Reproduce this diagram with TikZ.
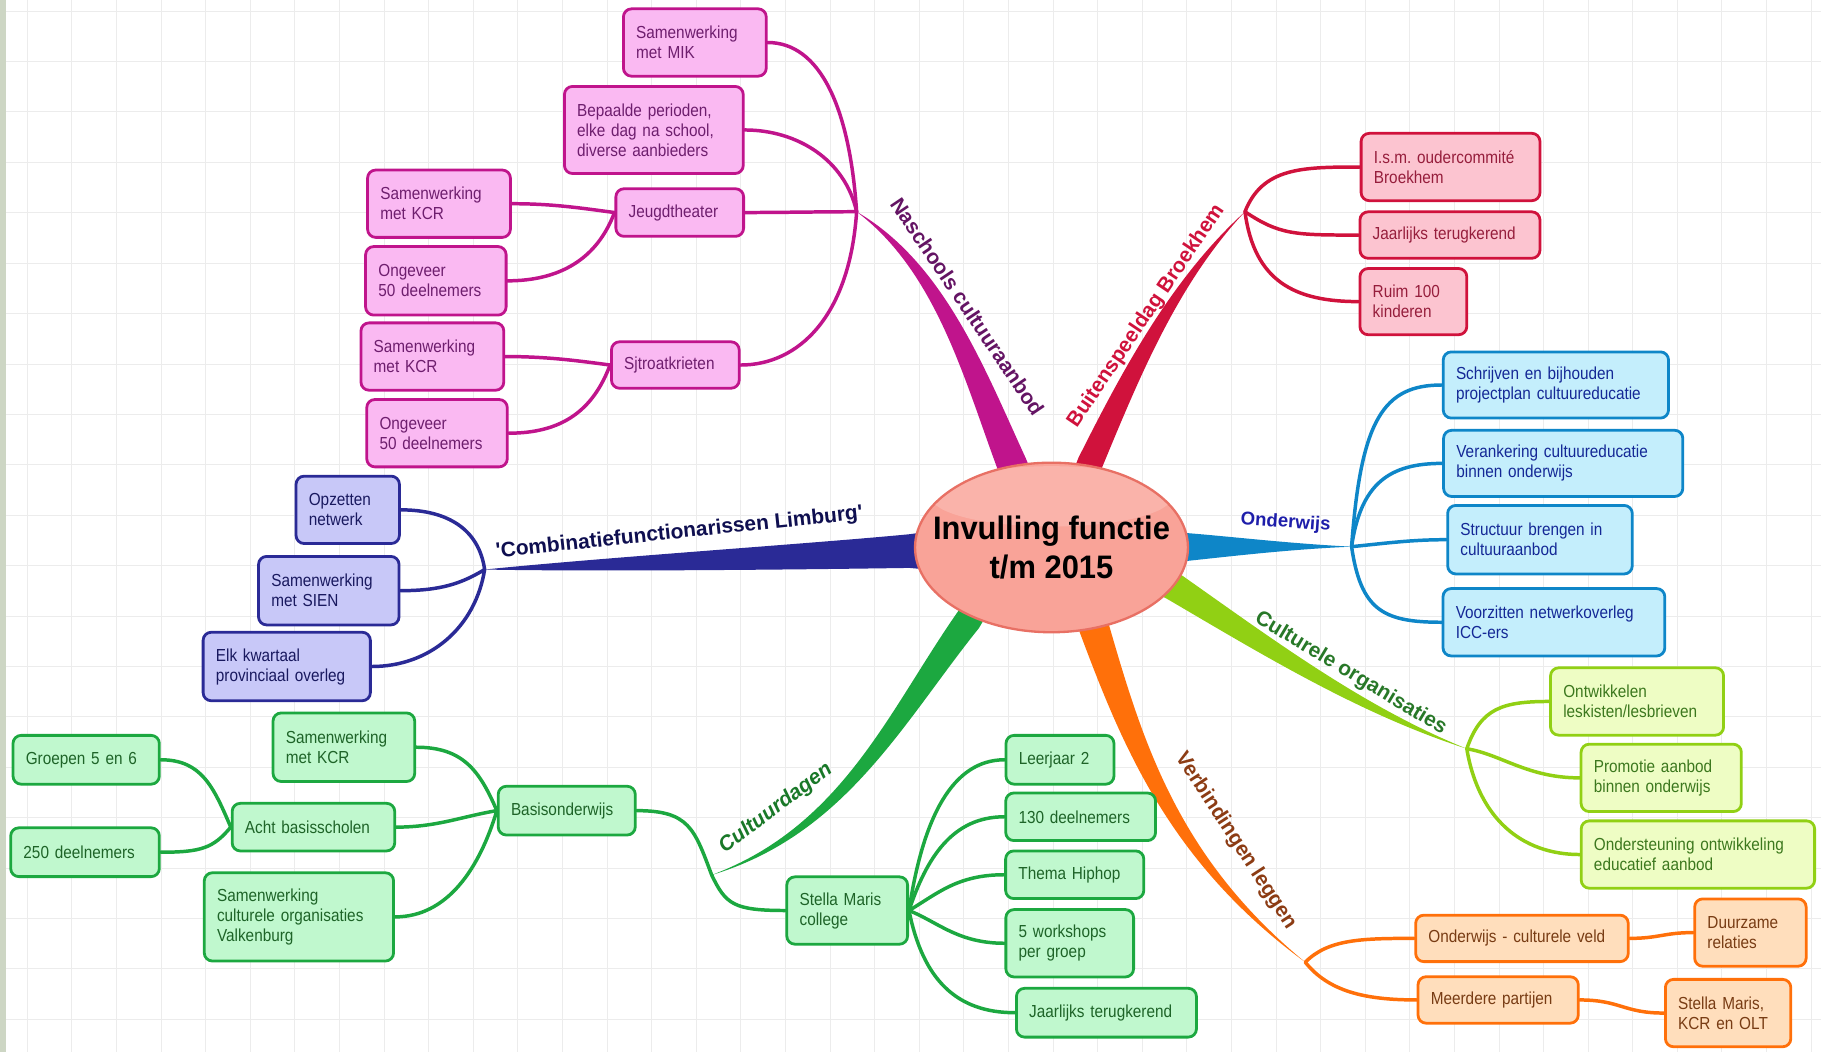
\documentclass[tikz,border=0pt]{standalone}
\usepackage{fontspec}
\usepackage{xcolor}
\usepackage{tikz}
\usetikzlibrary{shapes.geometric}
\setmainfont{Liberation Sans}
\newfontfamily\boxfont{Liberation Sans}[FakeStretch=0.88]
\newfontfamily\lblfont{Liberation Sans}
\newfontfamily\ttlfont{Liberation Sans}[FakeStretch=0.95]
\frenchspacing

\definecolor{magLine}{RGB}{192,20,140}
\definecolor{magFill}{RGB}{250,185,242}
\definecolor{magText}{RGB}{110,30,110}
\definecolor{magLbl}{RGB}{100,20,100}
\definecolor{redLine}{RGB}{208,18,60}
\definecolor{redFill}{RGB}{252,196,208}
\definecolor{redText}{RGB}{150,30,60}
\definecolor{bluLine}{RGB}{14,134,200}
\definecolor{bluFill}{RGB}{196,238,252}
\definecolor{bluText}{RGB}{20,40,150}
\definecolor{bluLbl}{RGB}{30,30,170}
\definecolor{ygLine}{RGB}{145,208,20}
\definecolor{ygFill}{RGB}{238,253,196}
\definecolor{ygText}{RGB}{60,120,30}
\definecolor{ygLbl}{RGB}{40,120,40}
\definecolor{orLine}{RGB}{255,112,10}
\definecolor{orFill}{RGB}{255,222,188}
\definecolor{orText}{RGB}{120,60,20}
\definecolor{orLbl}{RGB}{140,60,20}
\definecolor{grLine}{RGB}{28,168,64}
\definecolor{grFill}{RGB}{192,248,206}
\definecolor{grText}{RGB}{30,100,40}
\definecolor{grLbl}{RGB}{25,120,40}
\definecolor{navLine}{RGB}{42,42,150}
\definecolor{navFill}{RGB}{200,200,248}
\definecolor{navText}{RGB}{25,25,95}
\definecolor{navLbl}{RGB}{15,15,80}
\definecolor{ctrFill}{RGB}{249,163,152}
\definecolor{ctrLine}{RGB}{232,112,100}
\definecolor{gridC}{RGB}{236,236,236}
\definecolor{stripC}{RGB}{205,214,196}

\pgfdeclarelayer{grid}
\pgfdeclarelayer{bg}
\pgfsetlayers{grid,bg,main}

\tikzset{
  box/.style={rectangle, rounded corners=7pt, line width=2.4pt, inner xsep=11pt, inner ysep=3pt, align=left, font=\boxfont\fontsize{15}{17.2}\selectfont},
  sz/.style 2 args={text width=#1pt-22pt, minimum width=#1pt, minimum height=#2pt},
  magbox/.style={box, draw=magLine, fill=magFill, text=magText},
  redbox/.style={box, draw=redLine, fill=redFill, text=redText},
  blubox/.style={box, draw=bluLine, fill=bluFill, text=bluText},
  ygbox/.style={box, draw=ygLine, fill=ygFill, text=ygText},
  orbox/.style={box, draw=orLine, fill=orFill, text=orText},
  grbox/.style={box, draw=grLine, fill=grFill, text=grText},
  navbox/.style={box, draw=navLine, fill=navFill, text=navText},
  centre/.style={ellipse, draw=ctrLine, fill=ctrFill, line width=2pt, minimum width=235pt, minimum height=146pt, inner sep=0pt,
    path picture={\fill[white, opacity=0.18] (path picture bounding box.center) ++(0pt,44pt) ellipse (104pt and 26pt);}},
  ctrtext/.style={inner sep=0pt, align=center, font=\ttlfont\bfseries\fontsize{28}{33}\selectfont},
  twig/.style={line width=3pt, line cap=round},
  lbl/.style={inner sep=0pt, font=\lblfont\bfseries\fontsize{18}{20}\selectfont},
}

\begin{document}
\begin{tikzpicture}[x=1pt,y=-1pt]
\useasboundingbox (0,0) rectangle (1568,906);

%Background grid
\begin{pgfonlayer}{grid}
\fill[white] (0,0) rectangle (1568,906);
\foreach \gx in {0,...,40} \draw[gridC, line width=0.8pt] ({23.5+38.4*\gx},0) -- ({23.5+38.4*\gx},906);
\foreach \gy in {0,...,20} \draw[gridC, line width=0.8pt] (0,{9.6+43.4*\gy}) -- (1568,{9.6+43.4*\gy});
\fill[stripC] (0,0) rectangle (5,906);
\end{pgfonlayer}

%Hubs
\coordinate (nhub) at (737.6,182.3);
\coordinate (bhub) at (1072,182.3);
\coordinate (ohub) at (1163.8,470.7);
\coordinate (chub) at (1263,644.7);
\coordinate (vhub) at (1123.9,828.5);
\coordinate (dhub) at (612.8,753.4);
\coordinate (lhub) at (417.3,490.4);

% Centre
\node[centre] (centre) at (905.4,471.4) {};
\node[ctrtext] (centreTxt) at (centre.center) {Invulling functie\\t/m 2015};

% Naschools cultuuraanbod
\node[magbox, sz={123}{58}] (mik) at (598.3,36.6) {Samenwerking\\met MIK};
\node[magbox, sz={154}{75}] (bepaalde) at (563,111.9) {Bepaalde perioden,\\elke dag na school,\\diverse aanbieders};
\node[magbox, sz={110}{41}] (jeugd) at (585.3,183) {Jeugdtheater};
\node[magbox, sz={110}{40}] (sjtroat) at (581.5,314.3) {Sjtroatkrieten};
\node[magbox, sz={123}{58}] (kcrA) at (378,175.4) {Samenwerking\\met KCR};
\node[magbox, sz={121}{59}] (ongA) at (375.3,241.8) {Ongeveer\\50 deelnemers};
\node[magbox, sz={123}{58}] (kcrB) at (372.3,307) {Samenwerking\\met KCR};
\node[magbox, sz={121}{58}] (ongB) at (376.3,373) {Ongeveer\\50 deelnemers};

% Buitenspeeldag Broekhem
\node[redbox, sz={154}{58}] (ism) at (1249,143.8) {I.s.m. oudercommité\\Broekhem};
\node[redbox, sz={155}{40}] (jaarB) at (1248.5,202.4) {Jaarlijks terugkerend};
\node[redbox, sz={92}{57}] (ruim) at (1217,259.7) {Ruim 100\\kinderen};

% Onderwijs
\node[blubox, sz={194}{57}] (schrijven) at (1339.7,331.5) {Schrijven en bijhouden\\projectplan cultuureducatie};
\node[blubox, sz={206}{57}] (veranker) at (1346,399) {Verankering cultuureducatie\\binnen onderwijs};
\node[blubox, sz={159}{59}] (structuur) at (1326,464.7) {Structuur brengen in\\cultuuraanbod};
\node[blubox, sz={191}{58}] (voorzit) at (1338,535.8) {Voorzitten netwerkoverleg\\ICC-ers};

% Culturele organisaties
\node[ygbox, sz={149}{58}] (ontw) at (1409.6,604) {Ontwikkelen\\leskisten/lesbrieven};
\node[ygbox, sz={138}{58}] (promo) at (1430.4,669.8) {Promotie aanbod\\binnen onderwijs};
\node[ygbox, sz={201}{58}] (onderst) at (1462,735.8) {Ondersteuning ontwikkeling\\educatief aanbod};

% Verbindingen leggen
\node[orbox, sz={183}{40}] (ocv) at (1310.5,808) {Onderwijs - culturele veld};
\node[orbox, sz={96}{58}] (duurz) at (1507.2,803) {Duurzame\\relaties};
\node[orbox, sz={138}{40}] (meerd) at (1290,861) {Meerdere partijen};
\node[orbox, sz={108}{58}] (skoSt) at (1488,872.3) {Stella Maris,\\KCR en OLT};

% Cultuurdagen
\node[grbox, sz={104}{58}] (stella) at (729.5,784) {Stella Maris\\college};
\node[grbox, sz={118}{42}] (basis) at (488,698) {Basisonderwijs};
\node[grbox, sz={93}{42}] (leerjaar) at (912.7,654.2) {Leerjaar 2};
\node[grbox, sz={129}{41}] (d130) at (930.5,703.3) {130 deelnemers};
\node[grbox, sz={119}{41}] (hiphop) at (925.4,753.2) {Thema Hiphop};
\node[grbox, sz={110}{58}] (workshop) at (921.1,812.2) {5 workshops\\per groep};
\node[grbox, sz={155}{42}] (jaarG) at (952.7,872) {Jaarlijks terugkerend};
\node[grbox, sz={122}{59}] (kcrG) at (296.1,643.4) {Samenwerking\\met KCR};
\node[grbox, sz={140}{41}] (acht) at (269.9,712.2) {Acht basisscholen};
\node[grbox, sz={163}{76}] (sco) at (257.4,789.5) {Samenwerking\\culturele organisaties\\Valkenburg};
\node[grbox, sz={126}{42}] (groepen) at (74.2,654.2) {Groepen 5 en 6};
\node[grbox, sz={128}{42}] (d250) at (73.2,733.8) {250 deelnemers};

% 'Combinatiefunctionarissen Limburg'
\node[navbox, sz={89}{58}] (opzet) at (299.4,439) {Opzetten\\netwerk};
\node[navbox, sz={121}{59}] (sien) at (283.1,508.6) {Samenwerking\\met SIEN};
\node[navbox, sz={144}{59}] (elk) at (246.9,573.9) {Elk kwartaal\\provinciaal overleg};

% Text Node
\node[lbl, text=magLbl, rotate=-56] (lblN) at (833,264) {Naschools cultuuraanbod};
\node[lbl, text=redLine, rotate=56] (lblB) at (987,272) {Buitenspeeldag Broekhem};
\node[lbl, text=bluLbl, rotate=-4, font=\lblfont\bfseries\fontsize{16}{18}\selectfont] (lblO) at (1107,450) {Onderwijs};
\node[lbl, text=ygLbl, rotate=-31] (lblC) at (1163,580) {Culturele organisaties};
\node[lbl, text=orLbl, rotate=-57] (lblV) at (1064,724) {Verbindingen leggen};
\node[lbl, text=grLbl, rotate=37, font=\lblfont\bfseries\itshape\fontsize{18}{20}\selectfont] (lblD) at (668,696) {Cultuurdagen};
\node[lbl, text=navLbl, rotate=6] (lblL) at (585,459) {\textquotesingle Combinatiefunctionarissen Limburg\textquotesingle};

\begin{pgfonlayer}{bg}
%Main branches
\fill[magLine] (nhub) .. controls (813,226) and (848,318) .. (883,394) -- (898,430) -- (872,440) -- (859,404) .. controls (830,326) and (806,234) .. (nhub);
\fill[redLine] (bhub) .. controls (1014,244) and (981,325) .. (948.5,403.6) -- (940,440) -- (914,432) -- (928.5,394.4) .. controls (966.6,318.4) and (1009,239.3) .. (bhub);
\fill[bluLine] (ohub) .. controls (1110,468) and (1060,462) .. (1022,459) -- (1000,458) -- (1000,484) -- (1022,483) .. controls (1060,479) and (1110,473) .. (ohub);
\fill[ygLine] (chub) .. controls (1171.6,615.3) and (1088.3,564.5) .. (1005.5,516) -- (985,505) -- (1000,485) -- (1018.5,496) .. controls (1096.9,551.1) and (1174,608.7) .. (chub);
\fill[orLine] (vhub) .. controls (1007,742.6) and (966.5,643) .. (929.3,543.3) -- (925,510) -- (952,505) -- (953.9,534.7) .. controls (983.5,637) and (1013,737.4) .. (vhub);
\fill[grLine] (dhub) .. controls (725.5,711.2) and (765,612.2) .. (824.6,526.9) -- (838,505) -- (858,515) -- (843,540.7) .. controls (777.8,621.8) and (728.1,718.8) .. (dhub);
\fill[navLine] (lhub) .. controls (520,480) and (700,468) .. (783,460) -- (805,457) -- (805,491) -- (783,489) .. controls (650,491) and (500,492) .. (lhub);

%Curve Lines
\draw[twig, magLine] (nhub) .. controls +(-6,-90) and +(45,0) .. (mik.east);
\draw[twig, magLine] (nhub) .. controls +(-10,-45) and +(45,0) .. (bepaalde.east);
\draw[twig, magLine] (nhub) .. controls +(-30,0) and +(30,0) .. (jeugd.east);
\draw[twig, magLine] (nhub) .. controls +(-6,90) and +(50,0) .. (sjtroat.east);
\draw[twig, magLine] (jeugd.west) .. controls +(-30,-4) and +(35,0) .. (kcrA.east);
\draw[twig, magLine] (jeugd.west) .. controls +(-15,40) and +(45,0) .. (ongA.east);
\draw[twig, magLine] (sjtroat.west) .. controls +(-30,-4) and +(35,0) .. (kcrB.east);
\draw[twig, magLine] (sjtroat.west) .. controls +(-15,40) and +(45,0) .. (ongB.east);
%Curve Lines
\draw[twig, redLine] (bhub) .. controls +(15,-38) and +(-50,0) .. (ism.west);
\draw[twig, redLine] (bhub) .. controls +(30,20) and +(-55,0) .. (jaarB.west);
\draw[twig, redLine] (bhub) .. controls +(8,60) and +(-55,0) .. (ruim.west);
%Curve Lines
\draw[twig, bluLine] (ohub) .. controls +(8,-110) and +(-50,0) .. (schrijven.west);
\draw[twig, bluLine] (ohub) .. controls +(8,-55) and +(-45,0) .. (veranker.west);
\draw[twig, bluLine] (ohub) .. controls +(30,-3) and +(-30,0) .. (structuur.west);
\draw[twig, bluLine] (ohub) .. controls +(8,55) and +(-50,0) .. (voorzit.west);
%Curve Lines
\draw[twig, ygLine] (chub) .. controls +(12,-35) and +(-40,0) .. (ontw.west);
\draw[twig, ygLine] (chub) .. controls +(30,5) and +(-45,0) .. (promo.west);
\draw[twig, ygLine] (chub) .. controls +(10,60) and +(-50,0) .. (onderst.west);
%Curve Lines
\draw[twig, orLine] (vhub) .. controls +(20,-20) and +(-45,0) .. (ocv.west);
\draw[twig, orLine] (vhub) .. controls +(20,25) and +(-45,0) .. (meerd.west);
\draw[twig, orLine] (ocv.east) .. controls +(25,0) and +(-25,0) .. (duurz.west);
\draw[twig, orLine] (meerd.east) .. controls +(35,0) and +(-35,0) .. (skoSt.west);
%Curve Lines
\draw[twig, grLine] (dhub) .. controls +(-15,-40) and +(45,0) .. (basis.east);
\draw[twig, grLine] (dhub) .. controls +(12,25) and +(-45,0) .. (stella.west);
\draw[twig, grLine] (stella.east) .. controls +(12,-80) and +(-45,0) .. (leerjaar.west);
\draw[twig, grLine] (stella.east) .. controls +(15,-45) and +(-45,0) .. (d130.west);
\draw[twig, grLine] (stella.east) .. controls +(25,-15) and +(-40,0) .. (hiphop.west);
\draw[twig, grLine] (stella.east) .. controls +(25,10) and +(-40,0) .. (workshop.west);
\draw[twig, grLine] (stella.east) .. controls +(12,60) and +(-50,0) .. (jaarG.west);
\draw[twig, grLine] (basis.west) .. controls +(-15,-35) and +(40,0) .. (kcrG.east);
\draw[twig, grLine] (basis.west) .. controls +(-30,5) and +(35,0) .. (acht.east);
\draw[twig, grLine] (basis.west) .. controls +(-15,50) and +(45,0) .. (sco.east);
\draw[twig, grLine] (acht.west) .. controls +(-15,-35) and +(35,0) .. (groepen.east);
\draw[twig, grLine] (acht.west) .. controls +(-15,18) and +(35,0) .. (d250.east);
%Curve Lines
\draw[twig, navLine] (lhub) .. controls +(-5,-35) and +(40,0) .. (opzet.east);
\draw[twig, navLine] (lhub) .. controls +(-20,12) and +(35,0) .. (sien.east);
\draw[twig, navLine] (lhub) .. controls +(-8,50) and +(50,0) .. (elk.east);
\end{pgfonlayer}
\end{tikzpicture}
\end{document}
